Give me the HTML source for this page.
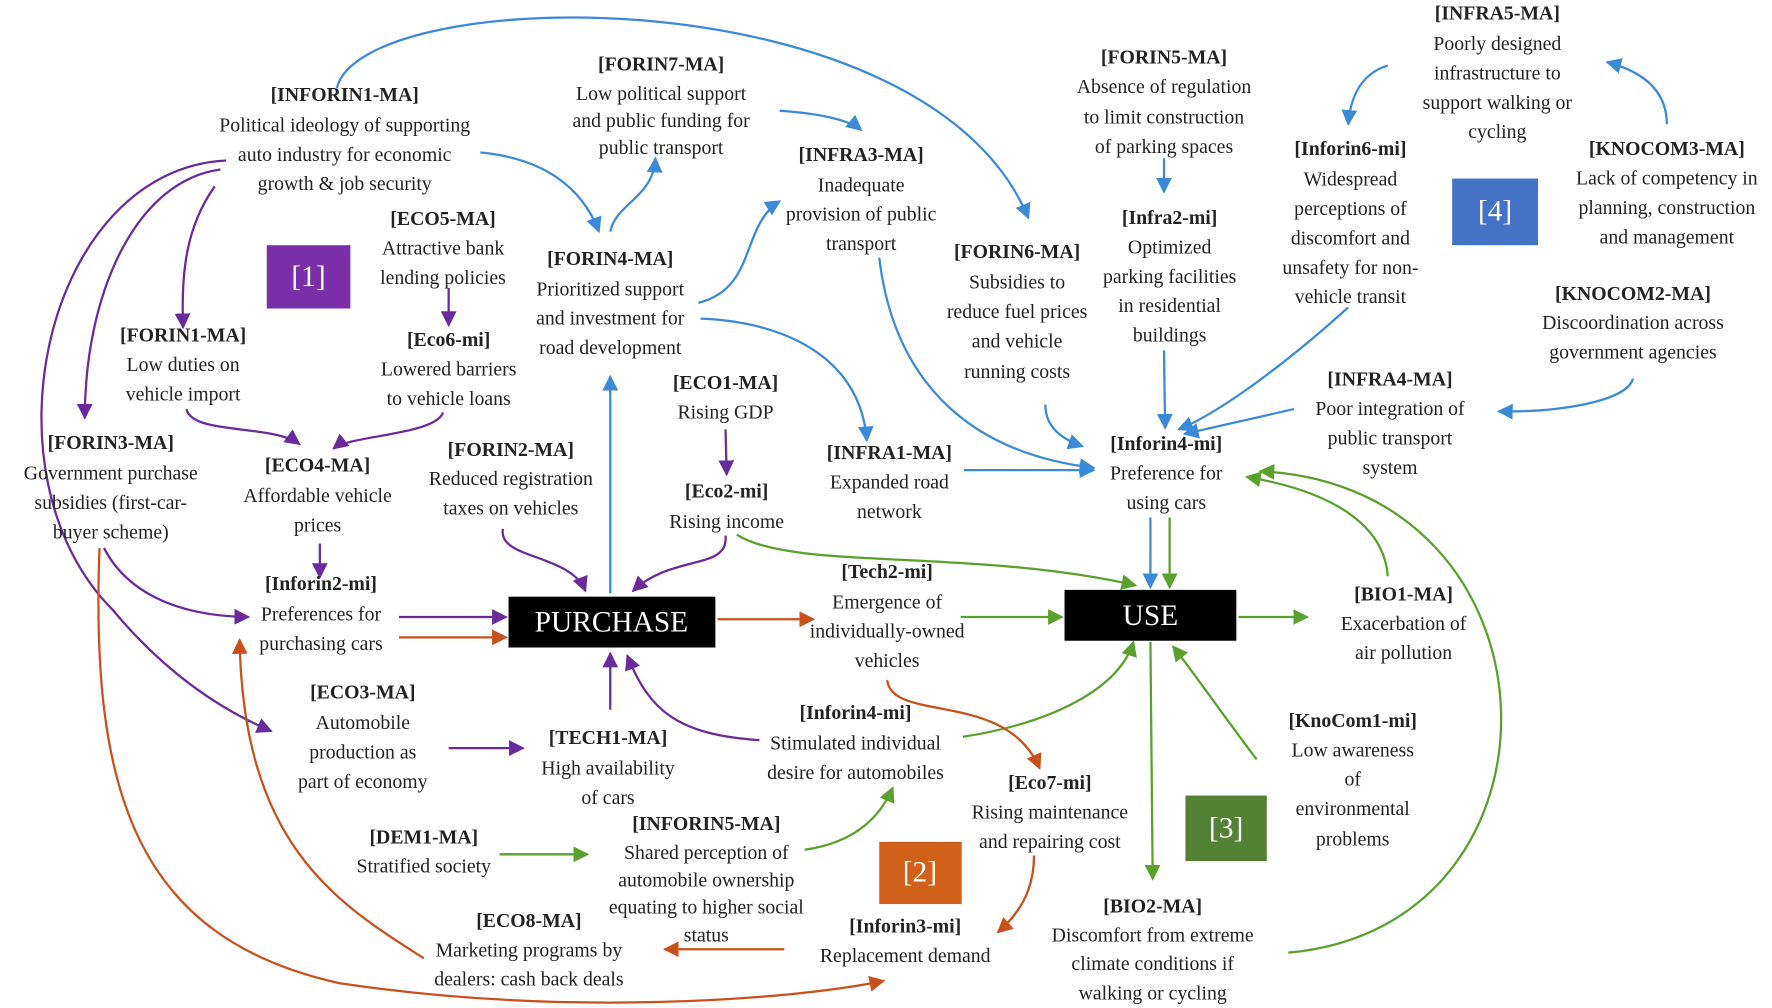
<!DOCTYPE html>
<html><head><meta charset="utf-8"><style>
html,body{margin:0;padding:0;background:#fff}
svg{display:block}
text{font-family:"Liberation Serif",serif;font-size:17.5px;fill:#222;text-anchor:middle;dominant-baseline:central}
.b{font-weight:bold}
.box{font-size:26px;fill:#fff}
path{fill:none;stroke-width:2}
.bl{stroke:#3a8ad8}.gr{stroke:#5aa02c}.pu{stroke:#6a2a9c}.or{stroke:#c8501a}
</style></head><body>
<svg width="1772" height="1008" viewBox="0 0 1568 892" xmlns="http://www.w3.org/2000/svg">
<defs>
<marker id="mb" viewBox="0 0 10 10" refX="9" refY="5" markerWidth="7" markerHeight="7" orient="auto"><path d="M0,0L10,5L0,10z" style="fill:#3a8ad8;stroke:none"/></marker>
<marker id="mg" viewBox="0 0 10 10" refX="9" refY="5" markerWidth="7" markerHeight="7" orient="auto"><path d="M0,0L10,5L0,10z" style="fill:#5aa02c;stroke:none"/></marker>
<marker id="mp" viewBox="0 0 10 10" refX="9" refY="5" markerWidth="7" markerHeight="7" orient="auto"><path d="M0,0L10,5L0,10z" style="fill:#6a2a9c;stroke:none"/></marker>
<marker id="mo" viewBox="0 0 10 10" refX="9" refY="5" markerWidth="7" markerHeight="7" orient="auto"><path d="M0,0L10,5L0,10z" style="fill:#c8501a;stroke:none"/></marker>
</defs>

<!-- blue -->
<g class="bl" marker-end="url(#mb)">
<path class="bl" d="M298,78 C320,-15 820,-25 910,193" marker-end="url(#mb)"/>
<path class="bl" d="M425,135 C480,140 515,165 530,205" marker-end="url(#mb)"/>
<path class="bl" d="M540,205 C545,180 578,175 580,140" marker-end="url(#mb)"/>
<path class="bl" d="M690,98 C720,100 750,105 762,115" marker-end="url(#mb)"/>
<path class="bl" d="M618,268 C670,255 655,200 690,178" marker-end="url(#mb)"/>
<path class="bl" d="M620,282 C700,285 762,320 767,390" marker-end="url(#mb)"/>
<path class="bl" d="M540,525 L540,333" marker-end="url(#mb)"/>
<path class="bl" d="M778,228 C790,330 850,400 968,414" marker-end="url(#mb)"/>
<path class="bl" d="M925,358 C925,375 935,387 958,395" marker-end="url(#mb)"/>
<path class="bl" d="M1030,140 L1030,170" marker-end="url(#mb)"/>
<path class="bl" d="M1030,310 L1031,379" marker-end="url(#mb)"/>
<path class="bl" d="M1193,272 C1140,320 1080,365 1043,380" marker-end="url(#mb)"/>
<path class="bl" d="M1145,362 L1048,384" marker-end="url(#mb)"/>
<path class="bl" d="M1445,335 C1440,355 1380,365 1326,364" marker-end="url(#mb)"/>
<path class="bl" d="M1228,58 C1205,65 1195,85 1193,110" marker-end="url(#mb)"/>
<path class="bl" d="M1475,110 C1475,85 1460,65 1422,55" marker-end="url(#mb)"/>
<path class="bl" d="M853,416 L968,416" marker-end="url(#mb)"/>
<path class="bl" d="M1018,458 L1018,520" marker-end="url(#mb)"/>
</g>
<!-- green -->
<path class="gr" d="M1035,458 L1035,520" marker-end="url(#mg)"/>
<path class="gr" d="M652,473 C700,505 860,485 1005,518" marker-end="url(#mg)"/>
<path class="gr" d="M850,546 L940,546" marker-end="url(#mg)"/>
<path class="gr" d="M1096,546 L1157,546" marker-end="url(#mg)"/>
<path class="gr" d="M1228,510 C1225,465 1180,435 1103,422" marker-end="url(#mg)"/>
<path class="gr" d="M1140,843 C1400,820 1390,430 1115,417" marker-end="url(#mg)"/>
<path class="gr" d="M852,652 C930,640 990,610 1003,568" marker-end="url(#mg)"/>
<path class="gr" d="M1112,672 C1080,630 1060,600 1038,572" marker-end="url(#mg)"/>
<path class="gr" d="M1018,568 L1020,778" marker-end="url(#mg)"/>
<path class="gr" d="M442,756 L520,756" marker-end="url(#mg)"/>
<path class="gr" d="M712,752 C760,745 780,720 790,697" marker-end="url(#mg)"/>
<!-- purple -->
<path class="pu" d="M200,142 C40,150 -20,420 100,540 C150,600 200,630 240,647" marker-end="url(#mp)"/>
<path class="pu" d="M195,150 C120,160 75,260 75,370" marker-end="url(#mp)"/>
<path class="pu" d="M190,165 C165,200 160,240 162,290" marker-end="url(#mp)"/>
<path class="pu" d="M397,255 L397,288" marker-end="url(#mp)"/>
<path class="pu" d="M165,362 C170,385 240,375 265,393" marker-end="url(#mp)"/>
<path class="pu" d="M392,365 C385,385 310,385 295,397" marker-end="url(#mp)"/>
<path class="pu" d="M283,481 L283,511" marker-end="url(#mp)"/>
<path class="pu" d="M92,485 C110,520 150,545 220,546" marker-end="url(#mp)"/>
<path class="pu" d="M353,546 L448,546" marker-end="url(#mp)"/>
<path class="pu" d="M445,468 C440,495 505,490 518,523" marker-end="url(#mp)"/>
<path class="pu" d="M642,474 C645,505 595,490 560,523" marker-end="url(#mp)"/>
<path class="pu" d="M642,380 L643,420" marker-end="url(#mp)"/>
<path class="pu" d="M540,628 L540,578" marker-end="url(#mp)"/>
<path class="pu" d="M672,655 C600,650 575,630 555,580" marker-end="url(#mp)"/>
<path class="pu" d="M397,662 L463,662" marker-end="url(#mp)"/>
<!-- orange -->
<path class="or" d="M353,564 L448,564" marker-end="url(#mo)"/>
<path class="or" d="M635,548 L720,548" marker-end="url(#mo)"/>
<path class="or" d="M785,602 C790,640 890,610 920,680" marker-end="url(#mo)"/>
<path class="or" d="M915,757 C915,790 900,810 883,825" marker-end="url(#mo)"/>
<path class="or" d="M694,840 L588,840" marker-end="url(#mo)"/>
<path class="or" d="M375,848 C300,800 215,750 212,566" marker-end="url(#mo)"/>
<path class="or" d="M88,485 C80,700 120,830 300,870 C500,900 700,885 782,868" marker-end="url(#mo)"/>

<!-- boxes -->
<rect x="450" y="528" width="183" height="45" fill="#000"/><text class="box" x="541" y="551">PURCHASE</text>
<rect x="942" y="522" width="152" height="45" fill="#000"/><text class="box" x="1018" y="545">USE</text>
<rect x="236" y="217" width="74" height="56" fill="#7a2fa8"/><text class="box" x="273" y="245">[1]</text>
<rect x="778" y="745" width="73" height="55" fill="#d0601a"/><text class="box" x="814" y="772">[2]</text>
<rect x="1049" y="704" width="72" height="58" fill="#548235"/><text class="box" x="1085" y="733">[3]</text>
<rect x="1285" y="158" width="76" height="59" fill="#4472c4"/><text class="box" x="1323" y="187">[4]</text>

<!-- labels -->
<text class="b" x="1325" y="12">[INFRA5-MA]</text><text x="1325" y="39">Poorly designed</text><text x="1325" y="65">infrastructure to</text><text x="1325" y="91">support walking or</text><text x="1325" y="117">cycling</text>
<text class="b" x="1030" y="51">[FORIN5-MA]</text><text x="1030" y="77">Absence of regulation</text><text x="1030" y="104">to limit construction</text><text x="1030" y="130">of parking spaces</text>
<text class="b" x="305" y="84">[INFORIN1-MA]</text><text x="305" y="111">Political ideology of supporting</text><text x="305" y="137">auto industry for economic</text><text x="305" y="163">growth &amp; job security</text>
<text class="b" x="585" y="57">[FORIN7-MA]</text><text x="585" y="83">Low political support</text><text x="585" y="107">and public funding for</text><text x="585" y="131">public transport</text>
<text class="b" x="762" y="137">[INFRA3-MA]</text><text x="762" y="164">Inadequate</text><text x="762" y="190">provision of public</text><text x="762" y="216">transport</text>
<text class="b" x="1195" y="132">[Inforin6-mi]</text><text x="1195" y="159">Widespread</text><text x="1195" y="185">perceptions  of</text><text x="1195" y="211">discomfort and</text><text x="1195" y="237">unsafety for non-</text><text x="1195" y="263">vehicle transit</text>
<text class="b" x="1475" y="132">[KNOCOM3-MA]</text><text x="1475" y="158">Lack of competency in</text><text x="1475" y="184">planning, construction</text><text x="1475" y="210">and management</text>
<text class="b" x="392" y="194">[ECO5-MA]</text><text x="392" y="220">Attractive bank</text><text x="392" y="246">lending policies</text>
<text class="b" x="540" y="229">[FORIN4-MA]</text><text x="540" y="256">Prioritized support</text><text x="540" y="282">and investment for</text><text x="540" y="308">road development</text>
<text class="b" x="900" y="223">[FORIN6-MA]</text><text x="900" y="250">Subsidies to</text><text x="900" y="276">reduce fuel prices</text><text x="900" y="302">and vehicle</text><text x="900" y="329">running costs</text>
<text class="b" x="1035" y="193">[Infra2-mi]</text><text x="1035" y="219">Optimized</text><text x="1035" y="245">parking facilities</text><text x="1035" y="271">in residential</text><text x="1035" y="297">buildings</text>
<text class="b" x="1445" y="260">[KNOCOM2-MA]</text><text x="1445" y="286">Discoordination across</text><text x="1445" y="312">government agencies</text>
<text class="b" x="162" y="297">[FORIN1-MA]</text><text x="162" y="323">Low duties on</text><text x="162" y="349">vehicle import</text>
<text class="b" x="397" y="301">[Eco6-mi]</text><text x="397" y="327">Lowered barriers</text><text x="397" y="353">to vehicle loans</text>
<text class="b" x="642" y="339">[ECO1-MA]</text><text x="642" y="365">Rising GDP</text>
<text class="b" x="1230" y="336">[INFRA4-MA]</text><text x="1230" y="362">Poor integration of</text><text x="1230" y="388">public transport</text><text x="1230" y="414">system</text>
<text class="b" x="98" y="392">[FORIN3-MA]</text><text x="98" y="419">Government purchase</text><text x="98" y="445">subsidies (first-car-</text><text x="98" y="471">buyer scheme)</text>
<text class="b" x="281" y="412">[ECO4-MA]</text><text x="281" y="439">Affordable vehicle</text><text x="281" y="465">prices</text>
<text class="b" x="452" y="398">[FORIN2-MA]</text><text x="452" y="424">Reduced registration</text><text x="452" y="450">taxes on vehicles</text>
<text class="b" x="643" y="435">[Eco2-mi]</text><text x="643" y="462">Rising income</text>
<text class="b" x="787" y="401">[INFRA1-MA]</text><text x="787" y="427">Expanded road</text><text x="787" y="453">network</text>
<text class="b" x="1032" y="393">[Inforin4-mi]</text><text x="1032" y="419">Preference for</text><text x="1032" y="445">using cars</text>
<text class="b" x="284" y="517">[Inforin2-mi]</text><text x="284" y="544">Preferences for</text><text x="284" y="570">purchasing cars</text>
<text class="b" x="785" y="506">[Tech2-mi]</text><text x="785" y="533">Emergence of</text><text x="785" y="559">individually-owned</text><text x="785" y="585">vehicles</text>
<text class="b" x="1242" y="526">[BIO1-MA]</text><text x="1242" y="552">Exacerbation of</text><text x="1242" y="578">air pollution</text>
<text class="b" x="321" y="613">[ECO3-MA]</text><text x="321" y="640">Automobile</text><text x="321" y="666">production as</text><text x="321" y="692">part of economy</text>
<text class="b" x="538" y="653">[TECH1-MA]</text><text x="538" y="680">High availability</text><text x="538" y="706">of cars</text>
<text class="b" x="757" y="631">[Inforin4-mi]</text><text x="757" y="658">Stimulated individual</text><text x="757" y="684">desire for automobiles</text>
<text class="b" x="1197" y="638">[KnoCom1-mi]</text><text x="1197" y="664">Low awareness</text><text x="1197" y="690">of</text><text x="1197" y="716">environmental</text><text x="1197" y="743">problems</text>
<text class="b" x="929" y="693">[Eco7-mi]</text><text x="929" y="719">Rising maintenance</text><text x="929" y="745">and repairing cost</text>
<text class="b" x="375" y="741">[DEM1-MA]</text><text x="375" y="767">Stratified society</text>
<text class="b" x="625" y="729">[INFORIN5-MA]</text><text x="625" y="755">Shared perception of</text><text x="625" y="779">automobile ownership</text><text x="625" y="803">equating to higher social</text><text x="625" y="828">status</text>
<text class="b" x="468" y="815">[ECO8-MA]</text><text x="468" y="841">Marketing programs by</text><text x="468" y="867">dealers: cash back deals</text>
<text class="b" x="801" y="820">[Inforin3-mi]</text><text x="801" y="846">Replacement demand</text>
<text class="b" x="1020" y="802">[BIO2-MA]</text><text x="1020" y="828">Discomfort from extreme</text><text x="1020" y="853">climate conditions if</text><text x="1020" y="879">walking or cycling</text>
</svg>
</body></html>
